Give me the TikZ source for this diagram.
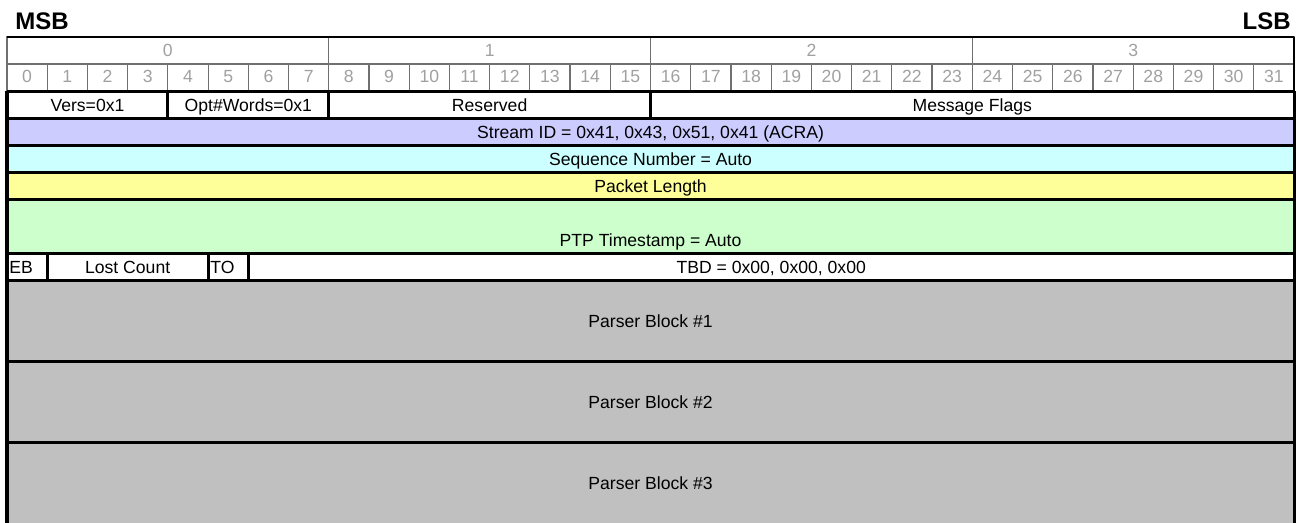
\documentclass[tikz,border=0pt]{standalone}
\usepackage{fontspec}
\setmainfont{Liberation Sans}
\definecolor{cpurple}{HTML}{CCCCFF}
\definecolor{ccyan}{HTML}{CCFFFF}
\definecolor{cyellow}{HTML}{FFFF99}
\definecolor{cgreen}{HTML}{CCFFCC}
\definecolor{cgray}{HTML}{C0C0C0}
\definecolor{hdrtext}{HTML}{A0A0A0}
\definecolor{hdrline}{HTML}{707070}
\begin{document}
\begin{tikzpicture}[x=0.75pt,y=-0.75pt,
  lbl/.style={font=\fontsize{13.2}{15}\selectfont, inner sep=0pt, text=black, anchor=base},
  lblw/.style={lbl, anchor=base west},
  hdr/.style={font=\fontsize{13.2}{15}\selectfont, inner sep=0pt, text=hdrtext, anchor=base},
  big/.style={font=\fontsize{18}{21}\selectfont\bfseries, inner sep=0pt},
  gridline/.style={line width=0.9pt, hdrline},
  databorder/.style={line width=2.3pt, black}]
\useasboundingbox (0,0) rectangle (1299,523);
\def\bw{40.22}
% titles
\node[big, anchor=base west] (msb) at (15,30) {MSB};
\node[big, anchor=base east] (lsb) at (1291,30) {LSB};
% header
\draw[gridline] (7,37) rectangle ({7+32*\bw},91);
\draw[gridline] (7,64) -- ({7+32*\bw},64);
\foreach \i in {1,2,3} {
  \draw[gridline] ({7+8*\i*\bw},37) -- ({7+8*\i*\bw},64);
}
\foreach \i in {0,1,2,3} {
  \node[hdr] (byte\i) at ({7+(8*\i+4)*\bw},56.4) {\i};
}
\foreach \b in {1,...,31} {
  \draw[gridline] ({7+\b*\bw},64) -- ({7+\b*\bw},91);
}
\foreach \b in {0,...,31} {
  \node[hdr] (bit\b) at ({7+(\b+0.5)*\bw},82.3) {\b};
}
\draw[black, line width=0.9pt] (7,37) -- ({7+32*\bw},37);
\draw[black, line width=0.9pt] ({7+32*\bw},37) -- ({7+32*\bw},91);
% fills
\fill[cpurple] (7,118.5) rectangle ({7+32*\bw},145.5);
\fill[ccyan] (7,145.5) rectangle ({7+32*\bw},172.5);
\fill[cyellow] (7,172.5) rectangle ({7+32*\bw},199.5);
\fill[cgreen] (7,199.5) rectangle ({7+32*\bw},253.5);
\fill[cgray] (7,280.5) rectangle ({7+32*\bw},530);
% row 1
\node[lbl] (vers) at ({7+2*\bw},111.3) {Vers=0x1};
\node[lbl] (opt) at ({7+6*\bw},111.3) {Opt\#Words=0x1};
\node[lbl] (res) at ({7+12*\bw},111.3) {Reserved};
\node[lbl] (flags) at ({7+24*\bw},111.3) {Message Flags};
% full-width rows
\node[lbl] (sid) at ({7+16*\bw},138.3) {Stream ID = 0x41, 0x43, 0x51, 0x41 (ACRA)};
\node[lbl] (seq) at ({7+16*\bw},165.3) {Sequence Number = Auto};
\node[lbl] (plen) at ({7+16*\bw},192.3) {Packet Length};
\node[lbl] (ptp) at ({7+16*\bw},246.3) {PTP Timestamp = Auto};
% EB row
\node[lblw] (eb) at ({7+2},273.3) {EB};
\node[lbl] (lost) at ({7+3*\bw},273.3) {Lost Count};
\node[lblw] (to) at ({7+5*\bw+2},273.3) {TO};
\node[lbl] (tbd) at ({7+19*\bw},273.3) {TBD = 0x00, 0x00, 0x00};
% parser blocks
\node[lbl] (pb1) at ({7+16*\bw},327.3) {Parser Block \#1};
\node[lbl] (pb2) at ({7+16*\bw},408.3) {Parser Block \#2};
\node[lbl] (pb3) at ({7+16*\bw},489.3) {Parser Block \#3};
% data borders
\foreach \y in {91.5,118.5,145.5,172.5,199.5,253.5,280.5,361.5,442.5} {
  \draw[databorder] (7,\y) -- ({7+32*\bw},\y);
}
\draw[databorder] (7,91.5) -- (7,530);
\draw[databorder] ({7+32*\bw},91.5) -- ({7+32*\bw},530);
\foreach \b in {4,8,16} {
  \draw[databorder] ({7+\b*\bw},91.5) -- ({7+\b*\bw},118.5);
}
\foreach \b in {1,5,6} {
  \draw[databorder] ({7+\b*\bw},253.5) -- ({7+\b*\bw},280.5);
}
\end{tikzpicture}
\end{document}
